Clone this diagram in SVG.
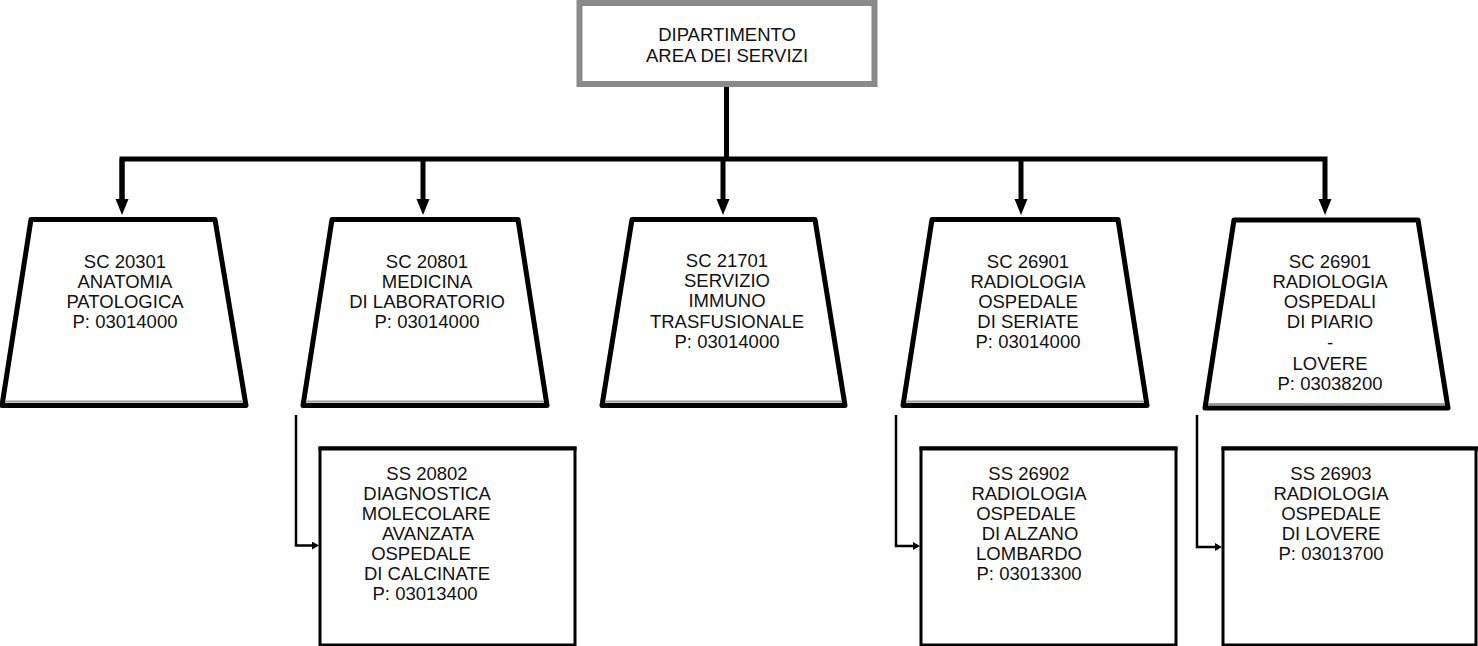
<svg xmlns="http://www.w3.org/2000/svg" width="1478" height="646" viewBox="0 0 1478 646">
<style>
text{font-family:"Liberation Sans",Arial,sans-serif;font-size:18.5px;fill:#111;text-anchor:middle}
.trap{fill:#fff;stroke:#000;stroke-width:5;stroke-linejoin:round}
.bev{stroke:#9a9a9a;stroke-width:2;fill:none}
.box{fill:#fff;stroke:#000;stroke-width:3}
.top{fill:none;stroke:#000;stroke-width:4}
.main{fill:none;stroke:#000;stroke-width:5}
.sub{fill:none;stroke:#000;stroke-width:2.5}
</style>
<defs>
<marker id="ah" markerUnits="userSpaceOnUse" markerWidth="16" markerHeight="14" refX="0" refY="7" orient="auto"><path d="M0,0.5 L16,7 L0,13.5 z" fill="#000"/></marker>
<marker id="as" markerUnits="userSpaceOnUse" markerWidth="7" markerHeight="8" refX="0" refY="4" orient="auto"><path d="M0,0 L7,4 L0,8 z" fill="#000"/></marker>
</defs>
<g id="connectors">
<path class="main" d="M726.5,87 V159"/>
<path class="main" d="M122,199 V159 H1325 V199" marker-end="url(#ah)"/>
<path class="main" d="M122,159 V199" marker-end="url(#ah)"/>
<path class="main" d="M423,159 V199" marker-end="url(#ah)"/>
<path class="main" d="M723,159 V199" marker-end="url(#ah)"/>
<path class="main" d="M1021,159 V199" marker-end="url(#ah)"/>
<path class="sub" d="M296,415 V545.5 H312" marker-end="url(#as)"/>
<path class="sub" d="M896,415 V546 H913" marker-end="url(#as)"/>
<path class="sub" d="M1197,415 V547 H1215" marker-end="url(#as)"/>
</g>
<g id="n0">
<rect x="579.5" y="3" width="295" height="81" fill="#fff" stroke="#8a8a8a" stroke-width="6"/>
<text x="727" y="41">DIPARTIMENTO</text>
<text x="727" y="62">AREA DEI SERVIZI</text>
</g>
<g id="n1">
<polygon class="trap" points="31,219.5 215,219.5 246,405.5 2,405.5"/>
<line class="bev" x1="5" y1="401.5" x2="243" y2="401.5"/>
<text x="125" y="268">SC 20301</text>
<text x="125" y="288">ANATOMIA</text>
<text x="125" y="308">PATOLOGICA</text>
<text x="125" y="328">P: 03014000</text>
</g>
<g id="n2">
<polygon class="trap" points="332,219.5 518,219.5 547,405.5 303,405.5"/>
<line class="bev" x1="306" y1="401.5" x2="544" y2="401.5"/>
<text x="427" y="268">SC 20801</text>
<text x="427" y="288">MEDICINA</text>
<text x="427" y="308">DI LABORATORIO</text>
<text x="427" y="328">P: 03014000</text>
</g>
<g id="n3">
<polygon class="trap" points="632,219.5 815,219.5 845,405.5 602,405.5"/>
<line class="bev" x1="605" y1="401.5" x2="842" y2="401.5"/>
<text x="727" y="267">SC 21701</text>
<text x="727" y="287">SERVIZIO</text>
<text x="727" y="307">IMMUNO</text>
<text x="727" y="328">TRASFUSIONALE</text>
<text x="727" y="348">P: 03014000</text>
</g>
<g id="n4">
<polygon class="trap" points="932,219.5 1118,219.5 1147,405.5 903,405.5"/>
<line class="bev" x1="906" y1="401.5" x2="1144" y2="401.5"/>
<text x="1028" y="268">SC 26901</text>
<text x="1028" y="288">RADIOLOGIA</text>
<text x="1028" y="308">OSPEDALE</text>
<text x="1028" y="328">DI SERIATE</text>
<text x="1028" y="348">P: 03014000</text>
</g>
<g id="n5">
<polygon class="trap" points="1234,220 1418,220 1448,408 1205,408"/>
<line class="bev" x1="1208" y1="404" x2="1445" y2="404"/>
<text x="1330" y="268">SC 26901</text>
<text x="1330" y="288">RADIOLOGIA</text>
<text x="1330" y="308">OSPEDALI</text>
<text x="1330" y="328">DI PIARIO</text>
<text x="1330" y="349">-</text>
<text x="1330" y="370">LOVERE</text>
<text x="1330" y="390">P: 03038200</text>
</g>
<g id="n6">
<rect class="box" x="320" y="448" width="255" height="197"/>
<line class="top" x1="318.5" y1="448.5" x2="576.5" y2="448.5"/>
<text x="427" y="480">SS 20802</text>
<text x="427" y="500">DIAGNOSTICA</text>
<text x="426" y="520">MOLECOLARE</text>
<text x="428" y="540">AVANZATA</text>
<text x="421" y="560">OSPEDALE</text>
<text x="427" y="580">DI CALCINATE</text>
<text x="425" y="600">P: 03013400</text>
</g>
<g id="n7">
<rect class="box" x="921" y="448" width="255" height="197"/>
<line class="top" x1="919.5" y1="448.5" x2="1177.5" y2="448.5"/>
<text x="1029" y="480">SS 26902</text>
<text x="1029" y="500">RADIOLOGIA</text>
<text x="1026" y="520">OSPEDALE</text>
<text x="1030" y="540">DI ALZANO</text>
<text x="1029" y="560">LOMBARDO</text>
<text x="1029" y="580">P: 03013300</text>
</g>
<g id="n8">
<rect class="box" x="1223" y="448" width="253" height="197"/>
<line class="top" x1="1221.5" y1="448.5" x2="1478" y2="448.5"/>
<text x="1331" y="480">SS 26903</text>
<text x="1331" y="500">RADIOLOGIA</text>
<text x="1331" y="520">OSPEDALE</text>
<text x="1331" y="540">DI LOVERE</text>
<text x="1331" y="560">P: 03013700</text>
</g>
</svg>
